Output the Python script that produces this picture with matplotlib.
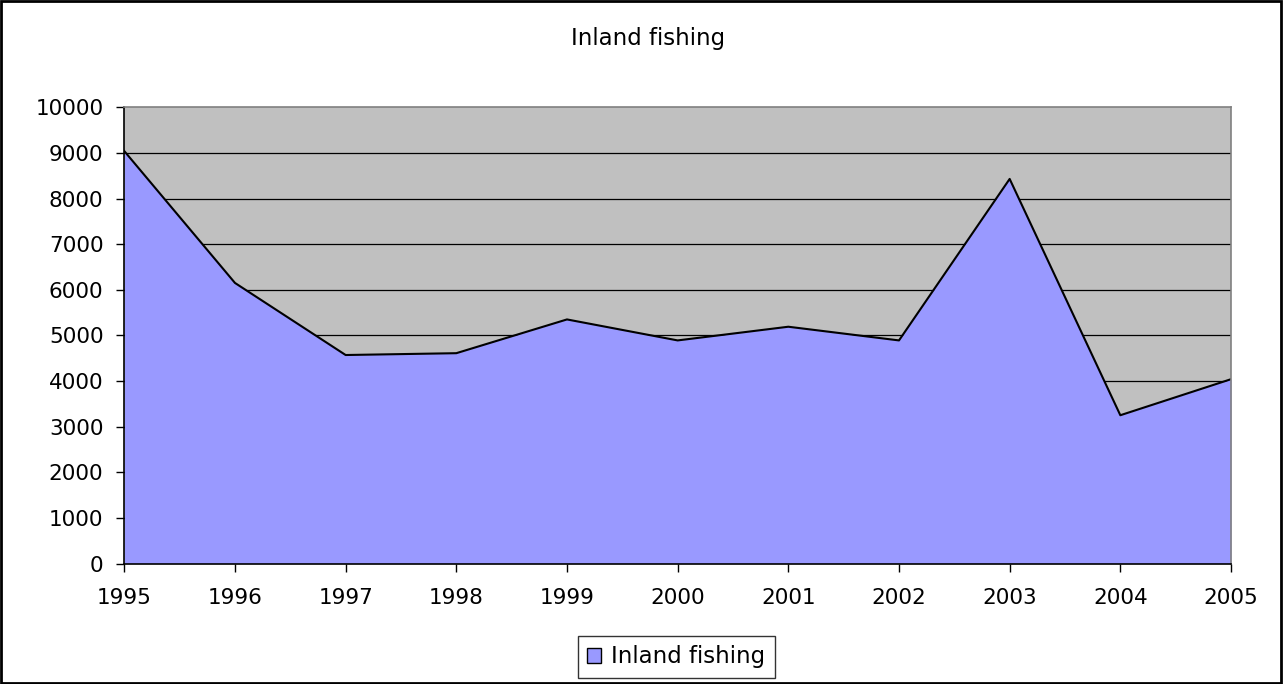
import matplotlib
matplotlib.use("Agg")
import matplotlib.pyplot as plt
from matplotlib.patches import Rectangle

plt.rcParams['font.family'] = ['DejaVu Sans']

years = ['1995', '1996', '1997', '1998', '1999', '2000', '2001', '2002', '2003', '2004', '2005']
values = [9040, 6150, 4570, 4610, 5350, 4890, 5190, 4890, 8430, 3250, 4040]
yticks = [0, 1000, 2000, 3000, 4000, 5000, 6000, 7000, 8000, 9000, 10000]
series_name = 'Inland fishing'
title = 'Inland fishing'

W, H = 1284, 684
fig = plt.figure(figsize=(W / 100, H / 100), dpi=100)
ax = fig.add_axes([124.3 / W, 1 - 563.5 / H, (1231 - 124.3) / W, (563.5 - 107.3) / H])

x = list(range(len(years)))
ax.set_facecolor('#C0C0C0')
ax.fill_between(x, values, 0, color='#9999FF', linewidth=0, zorder=2, label=series_name)
ax.plot(x, values, color='black', linewidth=1.5, zorder=3)

ax.set_xlim(0, len(years) - 1)
ax.set_ylim(0, 10000)
ax.set_yticks(yticks)
ax.set_yticklabels([str(v) for v in yticks], fontsize=15.5)
ax.set_xticks(x)
ax.set_xticklabels(years, fontsize=15.5)

for v in yticks[1:-1]:
    ax.axhline(v, color='black', linewidth=0.9, zorder=1)

ax.spines['top'].set_color('#808080')
ax.spines['right'].set_color('#808080')
ax.spines['left'].set_color('black')
ax.spines['bottom'].set_color('black')
for s in ax.spines.values():
    s.set_linewidth(1.2)
    s.set_zorder(4)
ax.tick_params(axis='both', direction='out', length=6, width=1, color='black')
ax.tick_params(axis='y', pad=9)
ax.tick_params(axis='x', pad=12)

fig.text(0.5 + 6 / W, 1 - 45 / H, title, ha='center', va='baseline', fontsize=16.5)

leg = fig.legend(handles=[Rectangle((0, 0), 1, 1, facecolor='#9999FF', edgecolor='black', linewidth=1)],
                 labels=[series_name], loc='center', bbox_to_anchor=(676.5 / W, 1 - 657 / H),
                 fontsize=16.5, frameon=True, fancybox=False, handlelength=0.6, handleheight=0.6,
                 handletextpad=0.45, borderpad=0.4, borderaxespad=0)
leg.get_frame().set_edgecolor('black')
leg.get_frame().set_linewidth(1)

fig.patches.append(Rectangle((0.001, 0.002), 0.997, 0.996, transform=fig.transFigure,
                             fill=False, edgecolor='black', linewidth=2))

fig.savefig('out.png', dpi=100)
